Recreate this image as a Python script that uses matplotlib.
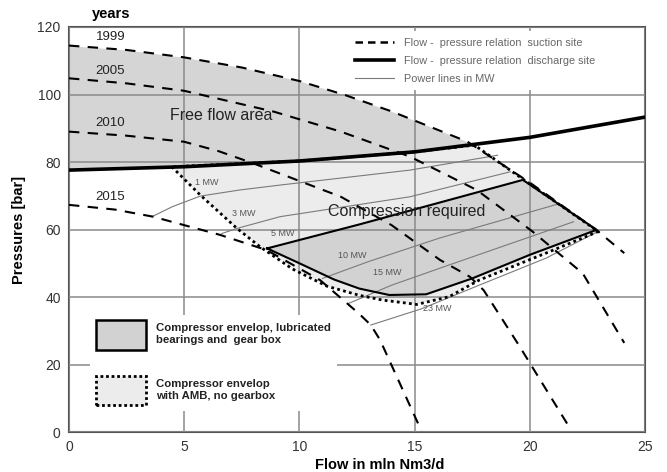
import numpy as np
import matplotlib
matplotlib.use("Agg")
import matplotlib.pyplot as plt
from matplotlib.lines import Line2D
from matplotlib.patches import Patch, Polygon

plt.rcParams["font.family"] = ["Liberation Sans", "DejaVu Sans"]

# suction side flow/pressure relations per year
years = ["1999", "2005", "2010", "2015"]
suction_x = {
    "1999": [0, 2.5, 5, 7.5, 10, 12, 14, 17.3, 20, 22.9, 24.1],
    "2005": [0, 2.5, 5, 8.9, 11.8, 14.8, 17.7, 20.1, 22.3, 24.1],
    "2010": [0, 2.5, 5, 6.5, 8, 11.8, 14, 16.1, 17.4, 18, 19.5, 21.8],
    "2015": [0, 2, 3.65, 6.56, 8.58, 10.9, 12.6, 13.1, 13.5, 15.3],
}
suction_y = {
    "1999": [114.5, 113.2, 111, 108, 104, 99.8, 95, 86, 73.9, 59.8, 53],
    "2005": [104.8, 103.3, 101.1, 94.9, 89, 81.6, 71.7, 59.5, 47, 26.4],
    "2010": [89, 87.8, 86, 83.2, 79.6, 69.7, 61.3, 51, 46, 42, 26, 0.5],
    "2015": [67.3, 65.9, 63.8, 58.4, 53.9, 45, 35, 31.7, 27.3, 0.3],
}
year_label_y = [117, 107, 91.6, 69.6]

# discharge side relation
discharge_x = [0, 5, 10, 15, 20, 25]
discharge_y = [77.6, 78.6, 80.3, 83, 87.3, 93.3]

# compressor envelopes
lub_x = [8.6, 12.6, 19.7, 22.9, 20, 17.5, 15.5, 13.9, 12.6, 11.5, 10, 8.6]
lub_y = [54.4, 61.5, 74.7, 59.9, 52.5, 45.5, 40.8, 40.6, 42.5, 45.2, 50, 54.4]
amb_x = [4.46, 5.7, 7.28, 8.29, 9.7, 11.2, 12.6, 13.6, 15.1, 16.5, 17.8, 20.7,
         22.97, 20, 17.6, 15, 10, 4.46]
amb_y = [78.6, 70.2, 60.4, 54.9, 48.3, 43.2, 40.5, 39.1, 37.8, 40.1, 45, 53,
         59.4, 73.5, 85.0, 83, 80.3, 78.6]

# power lines in MW
power_labels = ["1 MW", "3 MW", "5 MW", "10 MW", "15 MW", "23 MW"]
power_x = {
    "1 MW": [3.6, 4.5, 5.7, 7.4, 9.2, 14.8, 18.6],
    "3 MW": [6.63, 7.28, 9.16, 14.8, 19.15],
    "10 MW": [11.0, 13, 16.1, 21.2],
    "15 MW": [12.1, 14, 16.5, 21.9],
    "23 MW": [13.1, 15.3, 17.8, 20.7, 22.9],
}
power_y = {
    "1 MW": [63.8, 66.8, 69.9, 71.7, 73.2, 77.6, 82],
    "3 MW": [58.8, 60.3, 63.8, 69.7, 77.1],
    "10 MW": [45.5, 50.5, 57.5, 67.5],
    "15 MW": [38, 43.5, 49.5, 62.3],
    "23 MW": [31.7, 36.5, 43.5, 51.5, 59.2],
}
power_label_pos = [(6.0, 73.8), (7.6, 64.6), (9.3, 58.9), (12.3, 52.4),
                   (13.8, 47.2), (16.0, 36.6)]

fig = plt.figure(figsize=(6.67, 4.72), dpi=100)
ax = fig.add_axes([0.1034, 0.0847, 0.8636, 0.8581])
ax.set_xlim(0, 25)
ax.set_ylim(0, 120)

# free flow area between the 1999 suction curve and the discharge curve
xs = np.linspace(0, 25, 500)
top = np.interp(xs, suction_x["1999"], suction_y["1999"])
bot = np.interp(xs, discharge_x, discharge_y)
ax.fill_between(xs, bot, top, where=top > bot, color="#d5d5d5", lw=0, zorder=1)

ax.add_patch(Polygon(np.column_stack([amb_x, amb_y]), closed=True,
                     facecolor="#ececec", edgecolor="none", zorder=1))
ax.add_patch(Polygon(np.column_stack([lub_x, lub_y]), closed=True,
                     facecolor="#d2d2d2", edgecolor="none", zorder=1.5))

ax.grid(True, color="#8a8a8a", lw=1.1, zorder=2)
ax.set_axisbelow(False)
ax.set_xticks([0, 5, 10, 15, 20, 25])
ax.set_yticks([0, 20, 40, 60, 80, 100, 120])

for k in power_x:
    ax.plot(power_x[k], power_y[k], color="#7a7a7a", lw=0.8, zorder=3)
for lab, (px, py) in zip(power_labels, power_label_pos):
    ax.text(px, py, lab, fontsize=6.5, color="#555555", ha="center",
            va="center", zorder=6)

ax.plot(amb_x, amb_y, color="black", lw=2.0, ls=(0, (1, 1.2)), zorder=4)
ax.plot(lub_x, lub_y, color="black", lw=1.5, zorder=4)

for yr, ly in zip(years, year_label_y):
    ax.plot(suction_x[yr], suction_y[yr], color="black", lw=1.5,
            ls=(0, (5, 4)), zorder=5)
    ax.text(1.8, ly, yr, fontsize=9.5, color="#222222", ha="center",
            va="center", zorder=6)

ax.plot(discharge_x, discharge_y, color="black", lw=2.6, zorder=5)

ax.text(6.6, 93.9, "Free flow area", fontsize=11.5, color="#222222",
        ha="center", va="center", zorder=6)
ax.text(14.65, 65.3, "Compression required", fontsize=11.5, color="#222222",
        ha="center", va="center", zorder=6)

for s in ax.spines.values():
    s.set_color("#555555")
    s.set_linewidth(1.5)
ax.tick_params(length=0, labelsize=10, labelcolor="#333333", pad=6)
ax.set_ylabel("Pressures [bar]", fontsize=10.5, fontweight="bold", labelpad=8)
ax.set_xlabel("Flow in mln Nm3/d", fontsize=10.5, fontweight="bold")
ax.xaxis.set_label_coords(0.54, -0.065)
ax.text(0.073, 1.033, "years", transform=ax.transAxes, fontsize=10.5,
        fontweight="bold", ha="center", va="center")

curve_handles = [
    Line2D([], [], color="black", lw=1.8, ls=(0, (3, 2))),
    Line2D([], [], color="black", lw=2.6),
    Line2D([], [], color="#7a7a7a", lw=0.8),
]
curve_names = ["Flow -  pressure relation  suction site",
               "Flow -  pressure relation  discharge site",
               "Power lines in MW"]
leg1 = ax.legend(curve_handles, curve_names, loc="upper left",
                 bbox_to_anchor=(0.485, 0.99), fontsize=7.8, frameon=True,
                 handlelength=3.6, handletextpad=0.9, labelspacing=0.75,
                 borderpad=0.6, borderaxespad=0)
leg1.get_frame().set_edgecolor("none")
leg1.get_frame().set_facecolor("white")
leg1.get_frame().set_alpha(1)
leg1.set_zorder(7)
for t in leg1.get_texts():
    t.set_color("#666666")
ax.add_artist(leg1)

env_handles = [
    Patch(facecolor="#d2d2d2", edgecolor="black", lw=1.8),
    Patch(facecolor="#ececec", edgecolor="black", lw=2.0, ls=(0, (1, 1))),
]
env_names = ["Compressor envelop, lubricated\nbearings and  gear box",
             "Compressor envelop\nwith AMB, no gearbox"]
leg2 = ax.legend(env_handles, env_names, loc="upper left",
                 bbox_to_anchor=(0.037, 0.29), frameon=True,
                 handlelength=4.4, handleheight=3.6, handletextpad=0.9,
                 labelspacing=2.3, borderpad=0.5, borderaxespad=0,
                 prop={"weight": "bold", "size": 8.2})
leg2.get_frame().set_edgecolor("none")
leg2.get_frame().set_facecolor("white")
leg2.get_frame().set_alpha(1)
leg2.set_zorder(7)
for t in leg2.get_texts():
    t.set_color("#222222")

fig.savefig("out.png", dpi=100)
